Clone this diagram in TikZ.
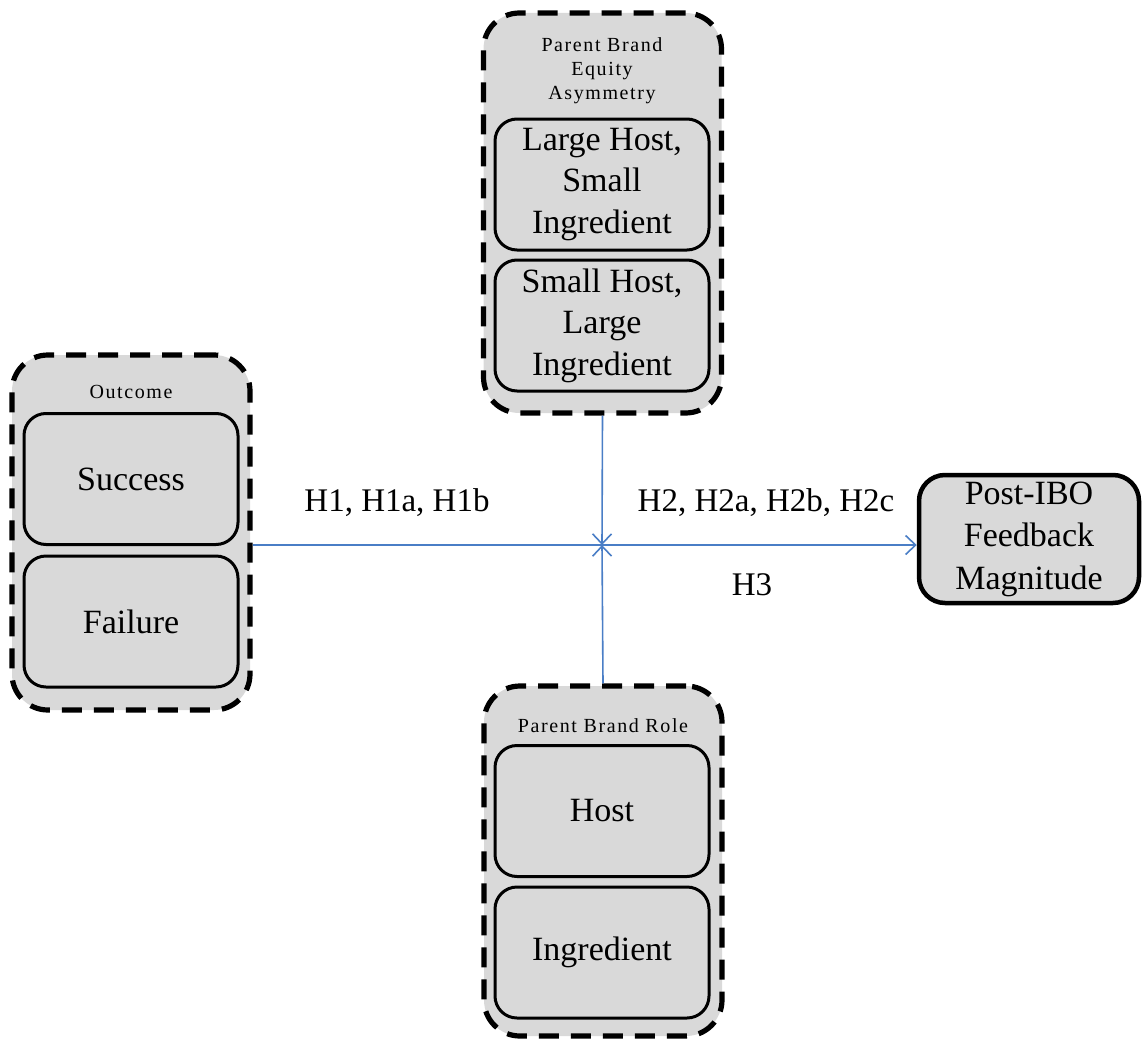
\documentclass[tikz,border=0pt]{standalone}
\usepackage{fontspec}
\setmainfont{Liberation Serif}
\newfontfamily\spacedserif[LetterSpace=8]{Liberation Serif}
\usetikzlibrary{arrows.meta}
\definecolor{boxgray}{RGB}{217,217,217}
\definecolor{linkblue}{RGB}{74,126,198}
\begin{document}
\begin{tikzpicture}[x=1pt,y=-1pt,
  group/.style={draw, fill=boxgray, line width=5.2pt, dash pattern=on 20pt off 12pt,
    rounded corners=36pt, minimum width=238pt, inner sep=0pt},
  grouptitle/.style={align=center, inner sep=0pt, font=\spacedserif\fontsize{20}{24}\selectfont},
  level/.style={draw, fill=boxgray, line width=3pt, rounded corners=22pt,
    minimum width=214pt, minimum height=131pt, inner sep=0pt, align=center,
    font=\fontsize{34}{41.5}\selectfont},
  target/.style={draw, fill=boxgray, line width=4.5pt, rounded corners=26pt,
    minimum width=220pt, minimum height=128pt, inner sep=0pt, align=center,
    font=\fontsize{34}{42.5}\selectfont},
  hyp/.style={inner sep=0pt, font=\fontsize{33}{40}\selectfont},
  link/.style={draw=linkblue, line width=1.6pt,
    -{Straight Barb[length=10pt,width=19pt,line width=1.6pt]}}]
\useasboundingbox (0,0) rectangle (1143,1041);

% factor groups
\node[group, minimum height=400pt] (asym) at (602.5,213) {};
\node[grouptitle] (asymT) at (602,71) {Parent Brand\\Equity\\Asymmetry};
\node[level] (lhsi) at (602,184.5) {Large Host,\\Small\\Ingredient};
\node[level] (shli) at (602,325.5) {Small Host,\\Large\\Ingredient};

\node[group, minimum height=355pt] (outc) at (131,532.5) {};
\node[grouptitle] (outcT) at (131,392) {Outcome};
\node[level] (succ) at (131,479) {Success};
\node[level] (fail) at (131,621.5) {Failure};

\node[group, minimum height=350pt] (role) at (603,861) {};
\node[grouptitle] (roleT) at (603,726) {Parent Brand Role};
\node[level] (host) at (602,811) {Host};
\node[level] (ingr) at (602,952.5) {Ingredient};

% dependent variable
\node[target] (fb) at (1029,539) {Post-IBO\\Feedback\\Magnitude};

% connectors
\coordinate (hub) at (602,545);
\draw[link] (outc.east |- hub) -- (hub -| fb.west);
\draw[link] (asym.south) -- (hub);
\draw[link] (role.north) -- (hub);

% hypothesis labels
\node[hyp] (h1) at (397,503) {H1, H1a, H1b};
\node[hyp] (h2) at (766,503) {H2, H2a, H2b, H2c};
\node[hyp] (h3) at (752,585) {H3};
\end{tikzpicture}
\end{document}
